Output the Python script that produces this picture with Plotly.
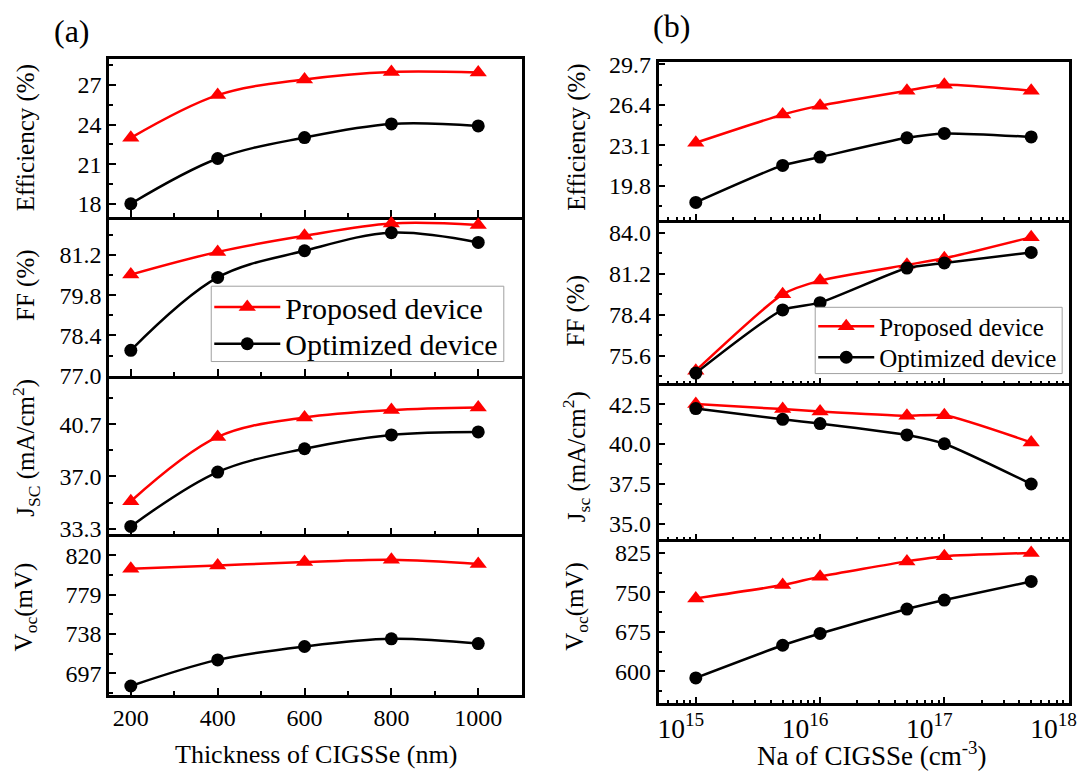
import plotly.graph_objects as go

# ---------------- data ----------------
thickness = [200, 400, 600, 800, 1000]
eff_prop_a = [23.0, 26.24, 27.43, 28.0, 27.95]
eff_opt_a = [18.0, 21.43, 23.02, 24.05, 23.9]
ff_prop_a = [80.52, 81.31, 81.87, 82.30, 82.25]
ff_opt_a = [77.88, 80.42, 81.35, 81.98, 81.64]
jsc_prop_a = [35.24, 39.80, 41.17, 41.70, 41.88]
jsc_opt_a = [33.46, 37.31, 38.96, 39.94, 40.15]
voc_prop_a = [806, 809.5, 813, 815.5, 811]
voc_opt_a = [683.8, 711, 725, 733, 728]

na = [1e15, 5e15, 1e16, 5e16, 1e17, 5e17]
eff_prop_b = [23.3, 25.6, 26.33, 27.55, 28.04, 27.55]
eff_opt_b = [18.43, 21.45, 22.13, 23.7, 24.06, 23.78]
ff_prop_b = [74.57, 79.8, 80.74, 81.82, 82.27, 83.72]
ff_opt_b = [74.4, 78.73, 79.23, 81.6, 81.95, 82.67]
jsc_prop_b = [42.5, 42.19, 42.04, 41.77, 41.8, 40.1]
jsc_opt_b = [42.22, 41.55, 41.28, 40.57, 40.02, 37.5]
voc_prop_b = [738.6, 764, 780, 809, 818.7, 825]
voc_opt_b = [587.3, 649.4, 671.9, 718.3, 735.4, 770.8]

names = ["Proposed device", "Optimized device"]

# ---------------- layout helpers ----------------
W, H = 1089, 773
FONT = "Liberation Serif, Times New Roman, Times, serif"
RED = "#ff0000"
BLACK = "#000000"
VS, VOFF = 0.966, 11.0  # vertical placement correction


def px_x(p):
    return p / W


def px_y(p):
    return 1 - ((p - VOFF) / VS) / H


left_dom = [px_x(109), px_x(525)]
right_dom = [px_x(663), px_x(1077)]
left_rows = [59.5, 217, 375, 533, 692.7]
right_rows = [62.7, 220, 382.7, 538, 701]

fig = go.Figure()

left_sets = [
    (eff_prop_a, eff_opt_a),
    (ff_prop_a, ff_opt_a),
    (jsc_prop_a, jsc_opt_a),
    (voc_prop_a, voc_opt_a),
]
right_sets = [
    (eff_prop_b, eff_opt_b),
    (ff_prop_b, ff_opt_b),
    (jsc_prop_b, jsc_opt_b),
    (voc_prop_b, voc_opt_b),
]

left_y = [
    dict(range=[17.0, 29.0], tick0=18, dtick=3, minor_dtick=1.5, fmt="d"),
    dict(range=[77.0, 82.53], tick0=77.0, dtick=1.4, minor_dtick=0.7, fmt=".1f"),
    dict(range=[32.9, 44.14], tick0=33.3, dtick=3.7, minor_dtick=1.85, fmt=".1f"),
    dict(range=[674.7, 842], tick0=697, dtick=41, minor_dtick=20.5, fmt="d"),
]
right_y = [
    dict(range=[17.0, 29.9], tick0=19.8, dtick=3.3, minor_dtick=1.65, fmt=".1f"),
    dict(range=[73.7, 84.9], tick0=75.6, dtick=2.8, minor_dtick=1.4, fmt=".1f"),
    dict(range=[34.04, 43.8], tick0=35.0, dtick=2.5, minor_dtick=1.25, fmt=".1f"),
    dict(range=[539.5, 851], tick0=600, dtick=75, minor_dtick=37.5, fmt="d"),
]

common = dict(
    showline=True, linecolor=BLACK, linewidth=2.5,
    ticks="inside", ticklen=7, tickwidth=2, tickcolor=BLACK,
    showgrid=False, zeroline=False,
    tickfont=dict(family=FONT, size=24, color=BLACK),
)

leg_ids = {(0, 0): "legend", (0, 1): "legend2", (1, 0): "legend3", (1, 1): "legend4"}

layout_axes = {}
for col in range(2):
    for r in range(4):
        idx = col * 4 + r + 1
        xname = "xaxis" if idx == 1 else f"xaxis{idx}"
        yname = "yaxis" if idx == 1 else f"yaxis{idx}"
        xref = "x" if idx == 1 else f"x{idx}"
        yref = "y" if idx == 1 else f"y{idx}"
        rows = left_rows if col == 0 else right_rows
        ydom = [px_y(rows[r + 1]), px_y(rows[r])]
        xdom = left_dom if col == 0 else right_dom
        ycfg = (left_y if col == 0 else right_y)[r]
        if col == 0:
            xa = dict(common, domain=xdom, anchor=yref, range=[150, 1100],
                      tick0=200, dtick=200, mirror=(r == 0),
                      minor=dict(dtick=100, tick0=200, ticks="inside", ticklen=4,
                                 tickwidth=2, tickcolor=BLACK),
                      showticklabels=(r == 3))
            if r > 0:
                xa["matches"] = "x"
        else:
            xa = dict(common, domain=xdom, anchor=yref, type="log",
                      range=[14.7, 18.004], dtick=1, exponentformat="power",
                      mirror=(r == 0), ticklen=6,
                      tickfont=dict(family=FONT, size=22, color=BLACK),
                      minor=dict(ticks="inside", ticklen=3, tickwidth=2,
                                 tickcolor=BLACK, dtick="D1"),
                      showticklabels=(r == 3), ticklabelshift=-15)
            if r > 0:
                xa["matches"] = "x5"
        ya = dict(common, domain=ydom, anchor=xref, range=ycfg["range"],
                  mirror=True,
                  tick0=ycfg["tick0"], dtick=ycfg["dtick"],
                  tickformat=ycfg["fmt"],
                  minor=dict(dtick=ycfg["minor_dtick"], tick0=ycfg["tick0"],
                             ticks="inside", ticklen=4, tickwidth=2,
                             tickcolor=BLACK))
        layout_axes[xname] = xa
        layout_axes[yname] = ya

        xs = thickness if col == 0 else na
        prop, opt = (left_sets if col == 0 else right_sets)[r]
        smooth = 1.0 if col == 0 else 0.6
        fig.add_trace(go.Scatter(
            x=xs, y=prop, name=names[0], mode="lines+markers",
            line=dict(color=RED, width=2.5, shape="spline", smoothing=smooth),
            marker=dict(symbol="triangle-up", size=15, color=RED),
            xaxis=xref, yaxis=yref, legend=leg_ids[(col, 0)],
            showlegend=(r == 0), cliponaxis=False,
        ))
        fig.add_trace(go.Scatter(
            x=xs, y=opt, name=names[1], mode="lines+markers",
            line=dict(color=BLACK, width=2.5, shape="spline", smoothing=smooth),
            marker=dict(symbol="circle", size=13, color=BLACK),
            xaxis=xref, yaxis=yref, legend=leg_ids[(col, 1)],
            showlegend=(r == 0), cliponaxis=False,
        ))

# ---------------- text ----------------
ann = []
yt_left = [
    ("Efficiency (%)", 138),
    ("FF (%)", 285),
    ("J<sub>SC</sub> (mA/cm<sup>2</sup>)", 447),
    ("V<sub>oc</sub>(mV)", 605),
]
yt_right = [
    ("Efficiency (%)", 138),
    ("FF (%)", 310),
    ("J<sub>sc</sub> (mA/cm<sup>2</sup>)", 456),
    ("V<sub>oc</sub>(mV)", 605),
]
for txt, yc in yt_left:
    ann.append(dict(text=txt, x=px_x(25), y=px_y(yc), xref="paper", yref="paper",
                    textangle=-90, showarrow=False, xanchor="center", yanchor="middle",
                    font=dict(family=FONT, size=25, color=BLACK)))
for txt, yc in yt_right:
    ann.append(dict(text=txt, x=px_x(580), y=px_y(yc), xref="paper", yref="paper",
                    textangle=-90, showarrow=False, xanchor="center", yanchor="middle",
                    font=dict(family=FONT, size=25, color=BLACK)))
ann.append(dict(text="Thickness of CIGSSe (nm)", x=px_x(318), y=px_y(752),
                xref="paper", yref="paper", showarrow=False,
                xanchor="center", yanchor="middle",
                font=dict(family=FONT, size=26, color=BLACK)))
ann.append(dict(text="Na of CIGSSe (cm<sup>-3</sup>)", x=px_x(878), y=px_y(752),
                xref="paper", yref="paper", showarrow=False,
                xanchor="center", yanchor="middle",
                font=dict(family=FONT, size=27, color=BLACK)))
ann.append(dict(text="(a)", x=px_x(72), y=px_y(32), xref="paper", yref="paper",
                showarrow=False, xanchor="center", yanchor="middle",
                font=dict(family=FONT, size=32, color=BLACK)))
ann.append(dict(text="(b)", x=px_x(676), y=px_y(27), xref="paper", yref="paper",
                showarrow=False, xanchor="center", yanchor="middle",
                font=dict(family=FONT, size=32, color=BLACK)))

shapes = [
    dict(type="rect", xref="paper", yref="paper",
         x0=px_x(212), x1=px_x(507), y0=px_y(361), y1=px_y(286),
         fillcolor="white", line=dict(color="#a0a0a0", width=1), layer="above"),
    dict(type="rect", xref="paper", yref="paper",
         x0=px_x(821), x1=px_x(1070), y0=px_y(373), y1=px_y(307),
         fillcolor="white", line=dict(color="#a0a0a0", width=1), layer="above"),
]


def leg(xpx, ypx, size, iw):
    return dict(x=px_x(xpx), y=px_y(ypx), xanchor="left", yanchor="middle",
                bgcolor="rgba(0,0,0,0)", borderwidth=0, itemwidth=iw,
                font=dict(family=FONT, size=size, color=BLACK))


fig.update_layout(
    width=W, height=H,
    margin=dict(l=0, r=0, t=0, b=0),
    paper_bgcolor="white", plot_bgcolor="white",
    font=dict(family=FONT, color=BLACK),
    annotations=ann,
    shapes=shapes,
    legend=leg(210, 306.7, 30, 66),
    legend2=leg(210, 343.3, 30, 66),
    legend3=leg(819, 326, 25, 56),
    legend4=leg(819, 357, 25, 56),
    **layout_axes,
)

post = (
    "document.documentElement.style.margin='0';"
    "document.documentElement.style.overflow='hidden';"
    "document.body.style.margin='0';"
    "document.body.style.overflow='hidden';"
)

fig.write_html("out.html", post_script=post, config={"displayModeBar": False})
